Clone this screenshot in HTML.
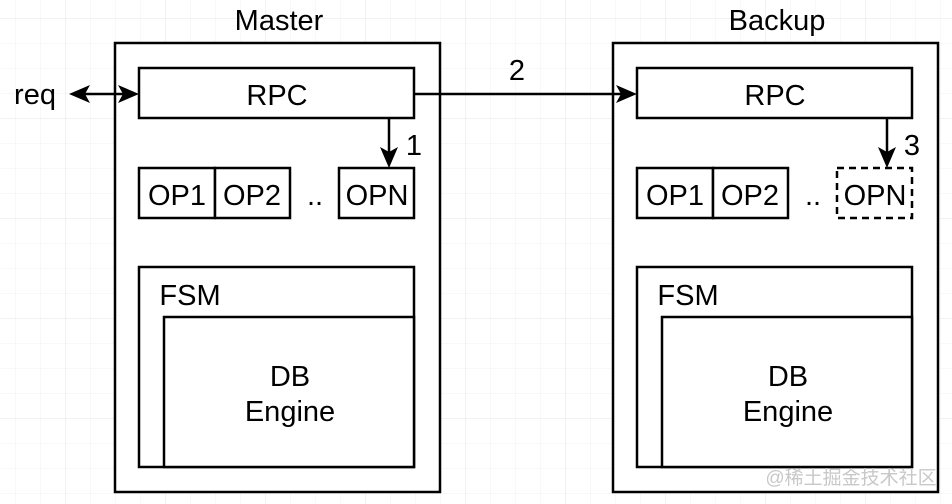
<!DOCTYPE html>
<html><head><meta charset="utf-8"><style>
html,body{margin:0;padding:0;background:#fff;}
svg{display:block;}
text{font-family:"Liberation Sans",Arial,sans-serif;fill:#000;}
</style></head><body>
<svg width="952" height="504" viewBox="0 0 952 504" xmlns="http://www.w3.org/2000/svg">
<defs>
<pattern id="minor" x="15" y="18" width="25" height="25" patternUnits="userSpaceOnUse">
<path d="M0 0H25M0 0V25" stroke="#f2f2f2" stroke-width="1" fill="none"/>
</pattern>
<pattern id="major" x="65" y="18" width="100" height="100" patternUnits="userSpaceOnUse">
<path d="M0 0H100M0 0V100" stroke="#e4e4e4" stroke-width="1" fill="none"/>
</pattern>
</defs>
<rect width="952" height="504" fill="url(#minor)"/>
<rect width="952" height="504" fill="url(#major)"/>

<g fill="#fff" stroke="#000" stroke-width="2.5">
<rect x="115" y="43" width="325" height="449"/>
<rect x="139" y="68" width="275" height="50"/>
<rect x="139" y="168" width="76" height="50"/>
<rect x="215" y="168" width="75" height="50"/>
<rect x="339" y="168" width="75" height="50"/>
<rect x="139" y="267" width="275" height="200"/>
<rect x="164" y="317" width="250" height="150"/>
<rect x="613" y="43" width="325" height="449"/>
<rect x="637" y="68" width="275" height="50"/>
<rect x="637" y="168" width="76" height="50"/>
<rect x="713" y="168" width="75" height="50"/>
<rect x="837" y="168" width="75" height="50" stroke-dasharray="7 5"/>
<rect x="637" y="267" width="275" height="200"/>
<rect x="662" y="317" width="250" height="150"/>
</g>

<g stroke="#000" stroke-width="2.5" fill="none">
<line x1="78" y1="94" x2="131" y2="94"/>
<line x1="414" y1="94" x2="628" y2="94"/>
<line x1="389" y1="118" x2="389" y2="160"/>
<line x1="887" y1="118" x2="887" y2="160"/>
</g>
<g fill="#000">
<path d="M69 94 L90 85 L85 94 L90 103Z"/>
<path d="M139 94 L118 85 L123 94 L118 103Z"/>
<path d="M637 94 L616 85 L621 94 L616 103Z"/>
<path d="M389 168 L380 147 L389 152 L398 147Z"/>
<path d="M887 168 L878 147 L887 152 L896 147Z"/>
</g>

<g font-size="29" text-anchor="middle">
<text x="279" y="30">Master</text>
<text x="777" y="30">Backup</text>
<text x="35" y="104">req</text>
<text x="517" y="80">2</text>
<text x="414" y="155">1</text>
<text x="912" y="155">3</text>
<text x="277" y="105">RPC</text>
<text x="775" y="105">RPC</text>
<text x="177" y="205">OP1</text>
<text x="252" y="205">OP2</text>
<text x="315" y="205">..</text>
<text x="377" y="205">OPN</text>
<text x="675" y="205">OP1</text>
<text x="750" y="205">OP2</text>
<text x="813" y="205">..</text>
<text x="875" y="205">OPN</text>
<text x="190" y="305">FSM</text>
<text x="688" y="305">FSM</text>
<text x="290" y="386">DB</text>
<text x="290" y="421">Engine</text>
<text x="788" y="386">DB</text>
<text x="788" y="421">Engine</text>
</g>
<text x="851" y="484" font-size="19" text-anchor="middle" style="fill:#c8c8c8;font-family:'Liberation Sans','Noto Sans CJK SC',sans-serif">@稀土掘金技术社区</text>
</svg>
</body></html>
